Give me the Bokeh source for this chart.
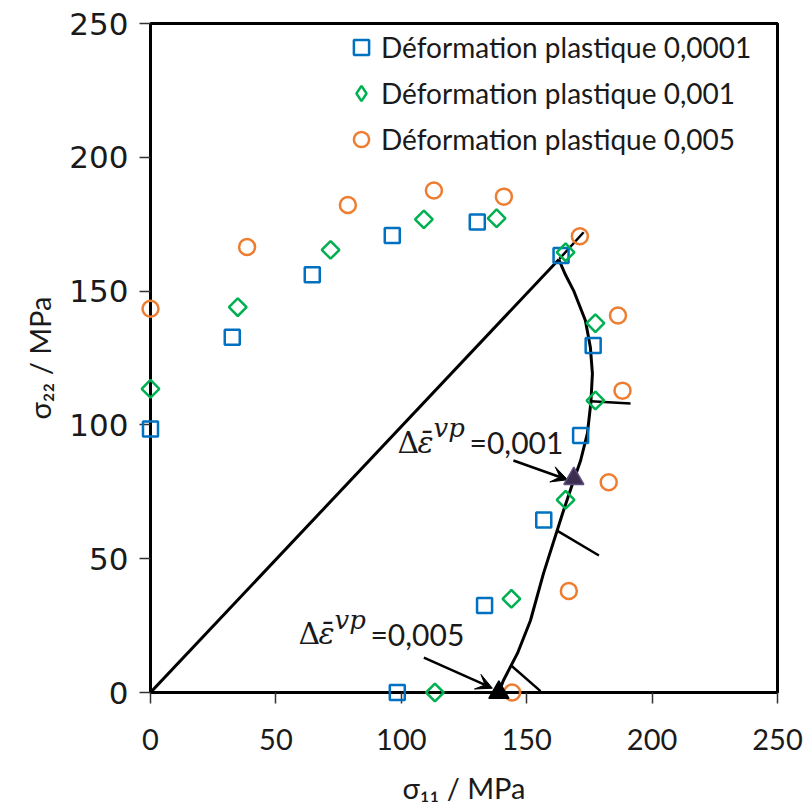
import numpy as np
from bokeh.plotting import figure
from bokeh.models import (Range1d, FixedTicker, ColumnDataSource, Arrow, VeeHead,
                          Legend, LegendItem)
from bokeh.embed import file_html
from bokeh.resources import INLINE
from bokeh.core.properties import value

# ---------------- data ----------------
sq_x = [0, 32.6, 64.5, 96.4, 130.3, 163.7, 176.5, 171.5, 156.8, 133.2, 98.4]
sq_y = [98.5, 132.8, 156.1, 170.8, 175.8, 163.3, 129.7, 96.0, 64.5, 32.5, 0]
di_x = [0, 34.8, 71.8, 109.0, 138.0, 165.5, 177.4, 177.4, 165.5, 143.9, 113.4]
di_y = [113.5, 144.0, 165.4, 176.8, 177.2, 164.5, 138.0, 109.1, 72.0, 35.0, 0]
ci_x = [0, 38.5, 78.7, 113.0, 140.9, 171.2, 186.4, 188.2, 182.7, 166.8, 144.2]
ci_y = [143.4, 166.5, 182.2, 187.6, 185.3, 170.5, 140.9, 112.8, 78.6, 37.9, 0]

series_labels = ["Déformation plastique 0,0001",
                 "Déformation plastique 0,001",
                 "Déformation plastique 0,005"]

# radial loading line and computed yield locus
ray_x = [0, 162.8]
ray_y = [0, 161.8]
curve_x = [162.8, 165.5, 168.7, 173.4, 175.4, 176.2, 175.6, 174.2, 171.5, 168.3,
           164.3, 156.7, 151.5, 146.3, 140.7, 138.9]
curve_y = [161.8, 156.0, 150.2, 139.0, 128.9, 119.2, 108.5, 96.8, 86.7, 78.1,
           66.9, 44.5, 26.9, 14.6, 4.5, 0]

# normals to the locus
norm_x0 = [163.0, 175.6, 162.1, 143.8]
norm_y0 = [162.0, 108.8, 60.5, 10.1]
norm_x1 = [172.7, 191.4, 178.8, 155.5]
norm_y1 = [172.0, 108.0, 51.2, 0.5]

# marked states
tri_x = [138.9, 168.8]
tri_y = [0, 79.9]

# annotations
ann_x = [98.5, 59.0]
ann_y = [93.6, 21.9]
ann_val = ["=0,001", "=0,005"]
arr_x0 = [144.7, 109.0]
arr_y0 = [86.7, 13.0]
arr_x1 = [166.3, 136.3]
arr_y1 = [79.5, 1.6]

x_ticks = [0, 50, 100, 150, 200, 250]
y_ticks = [0, 50, 100, 150, 200, 250]

# ---------------- figure ----------------
BLUE = "#0070C0"
GREEN = "#00B050"
ORANGE = "#ED7D31"
TXT = "#1a1a1a"
FONT = "Lato"

p = figure(width=805, height=809, output_backend="svg", toolbar_location=None,
           x_range=Range1d(0, 250), y_range=Range1d(0, 250),
           min_border_left=150, min_border_right=28, min_border_top=23,
           min_border_bottom=117)
p.grid.visible = False
p.outline_line_color = "black"
p.outline_line_width = 3
p.background_fill_color = "white"

for ax, ticks in ((p.xaxis[0], x_ticks), (p.yaxis[0], y_ticks)):
    ax.ticker = FixedTicker(ticks=ticks)
    ax.minor_tick_line_color = None
    ax.major_tick_in = 0
    ax.major_tick_out = 11
    ax.major_tick_line_width = 1.5
    ax.major_tick_line_color = "#333333"
    ax.axis_line_width = 3
    ax.axis_line_color = "black"
    ax.major_label_text_font = FONT
    ax.major_label_text_font_size = "29px"
    ax.major_label_text_color = TXT
    ax.axis_label_text_font = FONT
    ax.axis_label_text_font_size = "29px"
    ax.axis_label_text_font_style = "normal"
    ax.axis_label_text_color = TXT

p.yaxis.major_label_text_font = "DejaVu Sans"
p.yaxis.major_label_text_font_size = "31px"

p.xaxis.axis_label = "σ₁₁ / MPa"
p.yaxis.axis_label = "σ₂₂ / MPa"
p.xaxis.major_label_standoff = 25
p.xaxis.axis_label_standoff = 17
p.yaxis.major_label_standoff = 11
p.yaxis.axis_label_standoff = 9

# lines
p.line(ray_x, ray_y, line_color="black", line_width=3)
p.line(curve_x, curve_y, line_color="black", line_width=3)
p.segment(x0=norm_x0, y0=norm_y0, x1=norm_x1, y1=norm_y1,
          line_color="black", line_width=2.5)

# scatter series
r_sq = p.scatter(sq_x, sq_y, marker="square", size=15, fill_color=None,
                 line_color=BLUE, line_width=2.5, level="overlay")
r_di = p.scatter(di_x, di_y, marker="square", angle=np.pi / 4, size=12.5,
                 fill_color=None, line_color=GREEN, line_width=2.5, level="overlay")
r_ci = p.scatter(ci_x, ci_y, marker="circle", size=16, fill_color=None,
                 line_color=ORANGE, line_width=2.5, level="overlay")
# legend proxy for the diamond (legend markers are never rotated)
r_di_leg = p.scatter(di_x, di_y, marker="diamond", size=16, fill_color=None,
                     line_color=GREEN, line_width=2.5, visible=False)

# marked states (triangles)
tri_src = ColumnDataSource(dict(x=tri_x, y=tri_y,
                                fc=["black", "#3B2E4F"], lc=["black", "#5E4D7E"]))
p.scatter("x", "y", source=tri_src, marker="triangle", size=20,
          fill_color="fc", line_color="lc", line_width=1.5, level="overlay")

# arrows
arr_src = ColumnDataSource(dict(x0=arr_x0, y0=arr_y0, x1=arr_x1, y1=arr_y1))
p.add_layout(Arrow(source=arr_src, x_start="x0", y_start="y0", x_end="x1", y_end="y1",
                   line_color="black", line_width=2.5,
                   end=VeeHead(size=16, fill_color="black", line_color="black")))

# annotation texts  Δε̄^vp=0,00x
ann_src = ColumnDataSource(dict(x=ann_x, y=ann_y, val=ann_val,
                                d=["Δ", "Δ"], e=["ε\u0304", "ε\u0304"], s=["vp", "vp"]))
p.text("x", "y", text="d", source=ann_src, text_font=value("DejaVu Serif"),
       text_font_size="30px", text_color=TXT, text_baseline="alphabetic")
p.text("x", "y", text="e", source=ann_src, text_font=value("DejaVu Serif"),
       text_font_style="italic", text_font_size="30px", text_color=TXT,
       text_baseline="alphabetic", x_offset=20)
p.text("x", "y", text="s", source=ann_src, text_font=value("DejaVu Serif"),
       text_font_style="italic", text_font_size="26px", text_color=TXT,
       text_baseline="alphabetic", x_offset=36, y_offset=-14)
p.text("x", "y", text="val", source=ann_src, text_font=value(FONT),
       text_font_size="30px", text_color=TXT, text_baseline="alphabetic",
       x_offset=72)

# legend
legend = Legend(items=[LegendItem(label=series_labels[0], renderers=[r_sq]),
                       LegendItem(label=series_labels[1], renderers=[r_di_leg]),
                       LegendItem(label=series_labels[2], renderers=[r_ci])],
                location=(192, 534), orientation="vertical",
                glyph_width=38, glyph_height=38, label_standoff=1, spacing=8,
                padding=0, margin=0, border_line_alpha=0, background_fill_alpha=0,
                inactive_fill_alpha=0,
                label_text_font=FONT, label_text_font_size="28px",
                label_text_color=TXT)
p.add_layout(legend)

open("out.html", "w").write(file_html(p, INLINE))
